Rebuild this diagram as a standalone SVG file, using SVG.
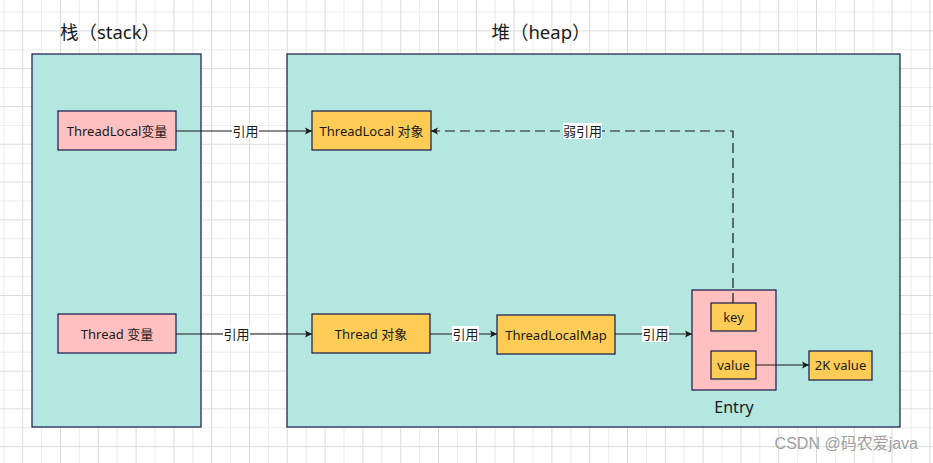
<svg xmlns="http://www.w3.org/2000/svg" width="933" height="463" viewBox="0 0 933 463">
<defs>
<pattern id="grid" x="3.3" y="11.5" width="37.8" height="37.8" patternUnits="userSpaceOnUse">
<path d="M0.5 0V37.8M0 0.5H37.8" stroke="#ececec" stroke-width="1" fill="none"/>
<path d="M19.4 0V37.8M0 19.4H37.8" stroke="#dcdcdc" stroke-width="1" fill="none"/>
</pattern>
<marker id="arr" markerWidth="8" markerHeight="8" refX="7" refY="4" orient="auto" markerUnits="userSpaceOnUse">
<path d="M0 0.5L7 4L0 7.5L1.5 4Z" fill="#1a1a1a"/>
</marker>
</defs>
<style>
.cont{fill:#b3e7e0;stroke:#15184a;stroke-width:1.2}
.pink{fill:#ffc0bf;stroke:#15184a;stroke-width:1.2}
.org{fill:#ffcd55;stroke:#15184a;stroke-width:1.2}
text{font-family:"Noto Sans","Noto Sans CJK SC",sans-serif;fill:#1a1a1a}
.t{font-size:13px;text-anchor:middle}
.title{font-size:18.5px;text-anchor:middle}
.ln{stroke:#1a1a1a;stroke-width:1.2;fill:none}
.lbl{fill:#ffffff}
</style>
<rect width="933" height="463" fill="#ffffff"/>
<rect width="933" height="463" fill="url(#grid)"/>

<g id="stack">
<rect class="cont" x="32" y="54" width="169" height="373"/>
<text class="title" x="110" y="39">栈（stack）</text>
</g>
<g id="heap">
<rect class="cont" x="287" y="54" width="613" height="373"/>
<text class="title" x="541" y="39">堆（heap）</text>
</g>

<g id="tlvar">
<rect class="pink" x="58" y="111" width="118" height="39"/>
<text class="t" x="117" y="135.5">ThreadLocal变量</text>
</g>
<g id="threadvar">
<rect class="pink" x="58" y="314" width="118" height="39"/>
<text class="t" x="117" y="338.5">Thread 变量</text>
</g>
<g id="tlobj">
<rect class="org" x="312" y="111" width="119" height="39"/>
<text class="t" x="371.5" y="135.5">ThreadLocal 对象</text>
</g>
<g id="threadobj">
<rect class="org" x="312" y="314" width="118" height="39"/>
<text class="t" x="371" y="338.5">Thread 对象</text>
</g>
<g id="tlmap">
<rect class="org" x="497" y="315" width="118" height="39"/>
<text class="t" x="556" y="339.5">ThreadLocalMap</text>
</g>
<g id="entry">
<rect class="pink" x="692" y="290" width="84" height="100"/>
<text x="734" y="413" style="font-size:16px;text-anchor:middle">Entry</text>
</g>
<g id="key">
<rect class="org" x="711" y="303" width="45" height="28"/>
<text class="t" x="733.5" y="321.5">key</text>
</g>
<g id="value">
<rect class="org" x="711" y="351" width="45" height="28"/>
<text class="t" x="733.5" y="369.5">value</text>
</g>
<g id="twok">
<rect class="org" x="809" y="351" width="63" height="29"/>
<text class="t" x="840.5" y="370">2K value</text>
</g>

<g id="connectors">
<path class="ln" d="M176 131H312" marker-end="url(#arr)"/>
<rect class="lbl" x="232" y="123" width="27" height="16"/>
<text class="t" x="245.5" y="136">引用</text>

<path class="ln" d="M176 334H312" marker-end="url(#arr)"/>
<rect class="lbl" x="223" y="326" width="27" height="16"/>
<text class="t" x="236.5" y="339">引用</text>

<path class="ln" d="M430 334H497" marker-end="url(#arr)"/>
<rect class="lbl" x="452" y="326" width="27" height="16"/>
<text class="t" x="465.5" y="339">引用</text>

<path class="ln" d="M615 334H692" marker-end="url(#arr)"/>
<rect class="lbl" x="642" y="326" width="27" height="16"/>
<text class="t" x="655.5" y="339">引用</text>

<path class="ln" d="M733 303V131H431" stroke-dasharray="10 5" marker-end="url(#arr)"/>
<rect class="lbl" x="563" y="123" width="39" height="16"/>
<text class="t" x="582.5" y="136">弱引用</text>

<path class="ln" d="M756 365H809" marker-end="url(#arr)"/>
</g>

<text x="918" y="449" style="font-size:16px;text-anchor:end;fill:#a0a0a0;font-family:'Liberation Sans','Noto Sans CJK SC',sans-serif">CSDN @码农爱java</text>
</svg>
